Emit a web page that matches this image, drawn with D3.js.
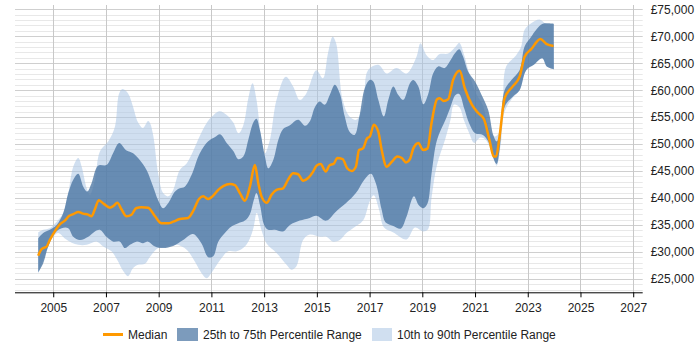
<!DOCTYPE html>
<html><head><meta charset="utf-8">
<script src="https://cdn.jsdelivr.net/npm/d3@7"></script>
<style>html,body{margin:0;padding:0;background:#fff}svg{display:block;font-family:"Liberation Sans",Arial,sans-serif}</style>
</head><body><svg id="c" width="700" height="350"></svg>
<script>
// [year, salary in £]
const median = [[2004.43,29300],[2004.56,30500],[2004.75,31000],[2004.87,32200],[2005.06,33800],[2005.25,35100],[2005.44,35800],[2005.61,36700],[2005.76,37000],[2005.95,37400],[2006.13,37100],[2006.32,36900],[2006.45,36600],[2006.58,37900],[2006.73,39600],[2006.92,38900],[2007.15,38200],[2007.28,38500],[2007.43,39100],[2007.6,37800],[2007.78,36600],[2007.97,36900],[2008.14,38100],[2008.35,38300],[2008.6,38200],[2008.86,36600],[2009.11,35300],[2009.36,35300],[2009.55,35600],[2009.8,36100],[2010.12,36300],[2010.3,37500],[2010.53,39800],[2010.69,40300],[2010.88,39800],[2011.04,40300],[2011.26,41500],[2011.45,42200],[2011.7,42600],[2011.89,42400],[2012.08,40900],[2012.27,39500],[2012.46,42100],[2012.65,46100],[2012.78,42700],[2012.9,40300],[2013.1,39100],[2013.28,40600],[2013.47,41500],[2013.72,41800],[2013.91,43400],[2014.1,44600],[2014.29,44400],[2014.48,43200],[2014.67,43700],[2014.86,44900],[2014.99,46000],[2015.14,46300],[2015.34,44900],[2015.47,46000],[2015.65,46400],[2015.77,47400],[2015.98,47200],[2016.15,45500],[2016.32,45000],[2016.48,45800],[2016.6,48900],[2016.75,49200],[2016.91,51100],[2017.01,51400],[2017.16,53600],[2017.33,52300],[2017.46,48900],[2017.65,45800],[2017.84,46700],[2018.05,47700],[2018.22,47400],[2018.38,46600],[2018.53,47200],[2018.66,49200],[2018.85,50200],[2019.03,48900],[2019.2,49200],[2019.35,53900],[2019.56,58300],[2019.66,58500],[2019.81,58000],[2019.98,58300],[2020.17,61900],[2020.42,63600],[2020.61,60400],[2020.88,57300],[2021.11,55800],[2021.34,54600],[2021.55,50700],[2021.71,47700],[2021.8,47700],[2021.93,51400],[2022.12,58500],[2022.43,60700],[2022.69,62500],[2022.88,66200],[2023.13,67600],[2023.48,69500],[2023.7,68600],[2023.98,68200]];

const p75 = [[2004.43,32500],[2004.62,33500],[2004.87,34100],[2005.13,35000],[2005.38,37200],[2005.57,40900],[2005.76,43400],[2005.95,44500],[2006.14,42100],[2006.29,41200],[2006.45,42700],[2006.7,46000],[2007.02,46100],[2007.27,48300],[2007.5,50200],[2007.78,48800],[2008.03,48300],[2008.29,47000],[2008.54,45200],[2008.79,42100],[2008.98,39600],[2009.17,38100],[2009.36,39000],[2009.62,41200],[2009.8,41800],[2009.99,42100],[2010.25,44300],[2010.56,48300],[2010.88,50500],[2011.14,51300],[2011.33,51800],[2011.58,50200],[2011.83,48700],[2012.02,47200],[2012.21,47700],[2012.4,50800],[2012.59,54000],[2012.71,54700],[2012.84,52600],[2013.03,47700],[2013.16,45500],[2013.35,47100],[2013.54,50800],[2013.72,52800],[2013.98,53500],[2014.29,54500],[2014.55,53400],[2014.73,54200],[2014.93,56900],[2015.11,57900],[2015.3,57300],[2015.49,59100],[2015.68,61000],[2015.87,59400],[2016.06,55100],[2016.24,52300],[2016.43,51700],[2016.62,55300],[2016.82,60400],[2017.01,61900],[2017.14,61600],[2017.33,58200],[2017.54,55100],[2017.71,58200],[2017.9,60700],[2018.09,59100],[2018.28,58200],[2018.53,61300],[2018.66,61900],[2018.85,60700],[2019.04,57400],[2019.23,59400],[2019.41,63100],[2019.6,64400],[2019.85,64100],[2020.04,65300],[2020.23,66800],[2020.4,67600],[2020.55,66200],[2020.74,63400],[2021.0,61600],[2021.25,59100],[2021.5,56300],[2021.69,51700],[2021.82,50500],[2021.93,51700],[2022.12,60000],[2022.38,61900],[2022.69,63700],[2022.88,68100],[2023.13,69900],[2023.32,71200],[2023.57,72300],[2023.99,72300]];

const p25 = [[2004.43,26200],[2004.62,27900],[2004.81,31000],[2005.06,33500],[2005.32,34400],[2005.57,34400],[2005.76,32800],[2006.01,32200],[2006.33,32800],[2006.58,33800],[2006.77,34100],[2007.02,32800],[2007.28,31900],[2007.53,31900],[2007.72,30700],[2007.91,31300],[2008.16,31900],[2008.41,31600],[2008.6,31900],[2008.86,31000],[2009.17,30700],[2009.55,31100],[2009.93,32200],[2010.3,33300],[2010.62,31600],[2010.88,29000],[2011.07,29200],[2011.26,31900],[2011.51,33500],[2011.76,34700],[2012.02,35300],[2012.27,35800],[2012.46,37000],[2012.6,39500],[2012.71,40900],[2012.85,38500],[2013.0,35000],[2013.15,34100],[2013.4,34100],[2013.72,33800],[2013.98,35000],[2014.35,35800],[2014.73,36300],[2014.98,36700],[2015.36,35800],[2015.73,37500],[2016.1,39000],[2016.48,40900],[2016.8,43400],[2017.05,44500],[2017.24,42700],[2017.46,37800],[2017.6,35500],[2017.9,34800],[2018.18,34300],[2018.4,36500],[2018.68,40300],[2018.86,38700],[2019.05,38100],[2019.2,39000],[2019.35,44500],[2019.56,50800],[2019.88,54500],[2020.07,56900],[2020.26,59100],[2020.4,59300],[2020.59,56600],[2020.78,53800],[2021.0,52000],[2021.3,51700],[2021.5,50500],[2021.69,47400],[2021.82,46300],[2021.93,48900],[2022.12,56900],[2022.43,58800],[2022.69,60000],[2022.94,63700],[2023.23,64700],[2023.55,65900],[2023.72,64400],[2023.99,63900]];

const p90 = [[2004.43,33600],[2004.62,34100],[2004.87,34400],[2005.13,35600],[2005.38,37200],[2005.57,40900],[2005.76,45800],[2005.95,47400],[2006.08,45800],[2006.27,41800],[2006.39,40600],[2006.58,43400],[2006.77,48600],[2007.09,50500],[2007.34,53200],[2007.5,59400],[2007.63,60200],[2007.84,59400],[2008.03,56900],[2008.22,54000],[2008.4,53000],[2008.6,54300],[2008.68,53800],[2008.8,51400],[2008.98,44600],[2009.17,40900],[2009.36,40300],[2009.55,41500],[2009.8,45200],[2010.06,46400],[2010.3,48600],[2010.56,51500],[2010.82,53900],[2011.0,55000],[2011.3,56100],[2011.58,55400],[2011.83,54000],[2012.03,52000],[2012.21,53500],[2012.4,58500],[2012.56,61300],[2012.71,58200],[2012.9,50800],[2013.03,48300],[2013.22,50800],[2013.47,58200],[2013.82,62500],[2014.1,60700],[2014.35,58200],[2014.6,59400],[2014.98,63700],[2015.23,62200],[2015.42,66800],[2015.6,69900],[2015.73,68700],[2015.98,58200],[2016.24,55100],[2016.49,54500],[2016.75,56900],[2016.94,63700],[2017.33,64700],[2017.65,63100],[2018.02,64100],[2018.4,63100],[2018.78,66200],[2018.93,68700],[2019.16,66500],[2019.41,65600],[2019.66,66700],[2019.98,66800],[2020.27,68100],[2020.4,68800],[2020.59,66500],[2020.78,63100],[2021.04,59400],[2021.29,57300],[2021.55,52600],[2021.74,51400],[2021.9,52000],[2022.05,58000],[2022.18,64400],[2022.56,66500],[2022.75,68100],[2022.88,71200],[2023.13,72400],[2023.45,73100],[2023.7,72300],[2023.95,72300]];

const p10 = [[2004.43,26000],[2004.62,28500],[2004.81,31000],[2005.0,32800],[2005.19,33500],[2005.44,32500],[2005.7,31700],[2005.95,31300],[2006.27,31300],[2006.65,31900],[2006.9,31000],[2007.21,30100],[2007.43,28500],[2007.66,26400],[2007.84,25500],[2008.03,27000],[2008.22,27600],[2008.48,27800],[2008.67,29100],[2008.98,30700],[2009.3,31000],[2009.68,31300],[2010.06,30400],[2010.37,28200],[2010.62,26100],[2010.82,25100],[2011.0,26100],[2011.33,28500],[2011.64,30100],[2011.96,30100],[2012.27,31000],[2012.46,32500],[2012.6,34500],[2012.72,37200],[2012.9,34000],[2013.1,31500],[2013.47,29800],[2013.85,27600],[2014.03,26700],[2014.22,27300],[2014.48,32200],[2014.73,33200],[2015.11,32800],[2015.36,32800],[2015.61,31900],[2015.87,32200],[2016.12,33500],[2016.37,34400],[2016.75,35800],[2017.0,39300],[2017.16,40500],[2017.35,38000],[2017.55,34500],[2017.9,33600],[2018.4,32300],[2018.72,34500],[2019.03,33800],[2019.22,34200],[2019.35,40000],[2019.55,46000],[2019.88,51100],[2020.07,54500],[2020.2,57300],[2020.4,56900],[2020.59,54300],[2020.78,52000],[2020.97,50200],[2021.2,51200],[2021.4,50800],[2021.65,48300],[2021.82,46000],[2021.98,50200],[2022.12,56000],[2022.43,58600],[2022.69,60000],[2022.94,63700],[2023.23,64700],[2023.55,65900],[2023.72,64400],[2023.99,63900]];

const xTicks = [2005,2007,2009,2011,2013,2015,2017,2019,2021,2023,2025,2027];
const yLabels = [25000,30000,35000,40000,45000,50000,55000,60000,65000,70000,75000];
const yMinor = d3.range(23000, 75001, 1000);
const legendLabels = ["Median","25th to 75th Percentile Range","10th to 90th Percentile Range"];

const svg = d3.select("#c");
const pLeft = 15, pRight = 642.7, pTop = 5, pBottom = 292.3;
const x = d3.scaleLinear().domain([2003.55, 2027.36]).range([pLeft, pRight]);
const y = d3.scaleLinear().domain([22500, 75800]).range([pBottom, pTop]);

const grid = svg.append("g");
yMinor.forEach(v => {
  const major = v % 5000 === 0;
  grid.append("line").attr("x1", pLeft).attr("x2", pRight)
    .attr("y1", Math.round(y(v)) + 0.5).attr("y2", Math.round(y(v)) + 0.5)
    .attr("stroke", major ? "#cfcfcf" : "#e8e8e8").attr("stroke-width", 1);
});
xTicks.forEach(t => {
  grid.append("line").attr("x1", Math.round(x(t)) + 0.5).attr("x2", Math.round(x(t)) + 0.5)
    .attr("y1", pTop).attr("y2", pBottom).attr("stroke", "#c8c8c8").attr("stroke-width", 1);
});

const curve = d3.curveCatmullRom.alpha(0.5);
const ln = d3.line().x(d => x(d[0])).y(d => y(d[1])).curve(curve);
function band(upper, lower) {
  const a = ln(upper);
  const b = ln(lower.slice().reverse());
  return a + "L" + b.slice(1) + "Z";
}
svg.append("path").attr("d", band(p90, p10)).attr("fill", "#a9c5e3").attr("fill-opacity", 0.55);
svg.append("path").attr("d", band(p75, p25)).attr("fill", "#44709f").attr("fill-opacity", 0.75);

svg.append("path").datum(median)
  .attr("d", d3.line().x(d => x(d[0])).y(d => y(d[1])).curve(d3.curveMonotoneX))
  .attr("fill", "none").attr("stroke", "#ff9900").attr("stroke-width", 2.5)
  .attr("stroke-linejoin", "round");

// x axis
const xa = svg.append("g").attr("transform", `translate(0,${pBottom})`)
  .call(d3.axisBottom(x).tickValues(xTicks).tickFormat(d3.format("d")).tickSizeOuter(0).tickSize(5));
xa.select(".domain").attr("stroke", "#000").attr("d", `M${pLeft},0.5H${pRight}`);
xa.selectAll(".tick line").attr("stroke", "#000");
xa.selectAll(".tick text").attr("font-size", 12).attr("font-family", "Liberation Sans, Arial, sans-serif").attr("fill", "#222").attr("dy", "0.95em");

// y labels
const ya = svg.append("g").attr("transform", `translate(${pRight},0)`)
  .call(d3.axisRight(y).tickValues(yLabels).tickFormat(d => "£" + d3.format(",")(d)).tickSize(0).tickPadding(8));
ya.select(".domain").remove();
ya.selectAll(".tick text").attr("font-size", 12).attr("font-family", "Liberation Sans, Arial, sans-serif").attr("fill", "#222");

// legend
const lg = svg.append("g");
const ly = 334.5;
lg.append("line").attr("x1", 103).attr("x2", 123).attr("y1", ly).attr("y2", ly).attr("stroke", "#ff9900").attr("stroke-width", 3);
lg.append("text").attr("x", 128).attr("y", ly + 4.5).attr("font-size", 12).attr("fill", "#222").text(legendLabels[0]);
lg.append("rect").attr("x", 177).attr("y", 328).attr("width", 21).attr("height", 13).attr("fill", "#44709f").attr("fill-opacity", 0.7);
lg.append("text").attr("x", 203).attr("y", ly + 4.5).attr("font-size", 12).attr("fill", "#222").text(legendLabels[1]);
lg.append("rect").attr("x", 372).attr("y", 328).attr("width", 20).attr("height", 13).attr("fill", "#a9c5e3").attr("fill-opacity", 0.55);
lg.append("text").attr("x", 397).attr("y", ly + 4.5).attr("font-size", 12).attr("fill", "#222").text(legendLabels[2]);
</script></body></html>
